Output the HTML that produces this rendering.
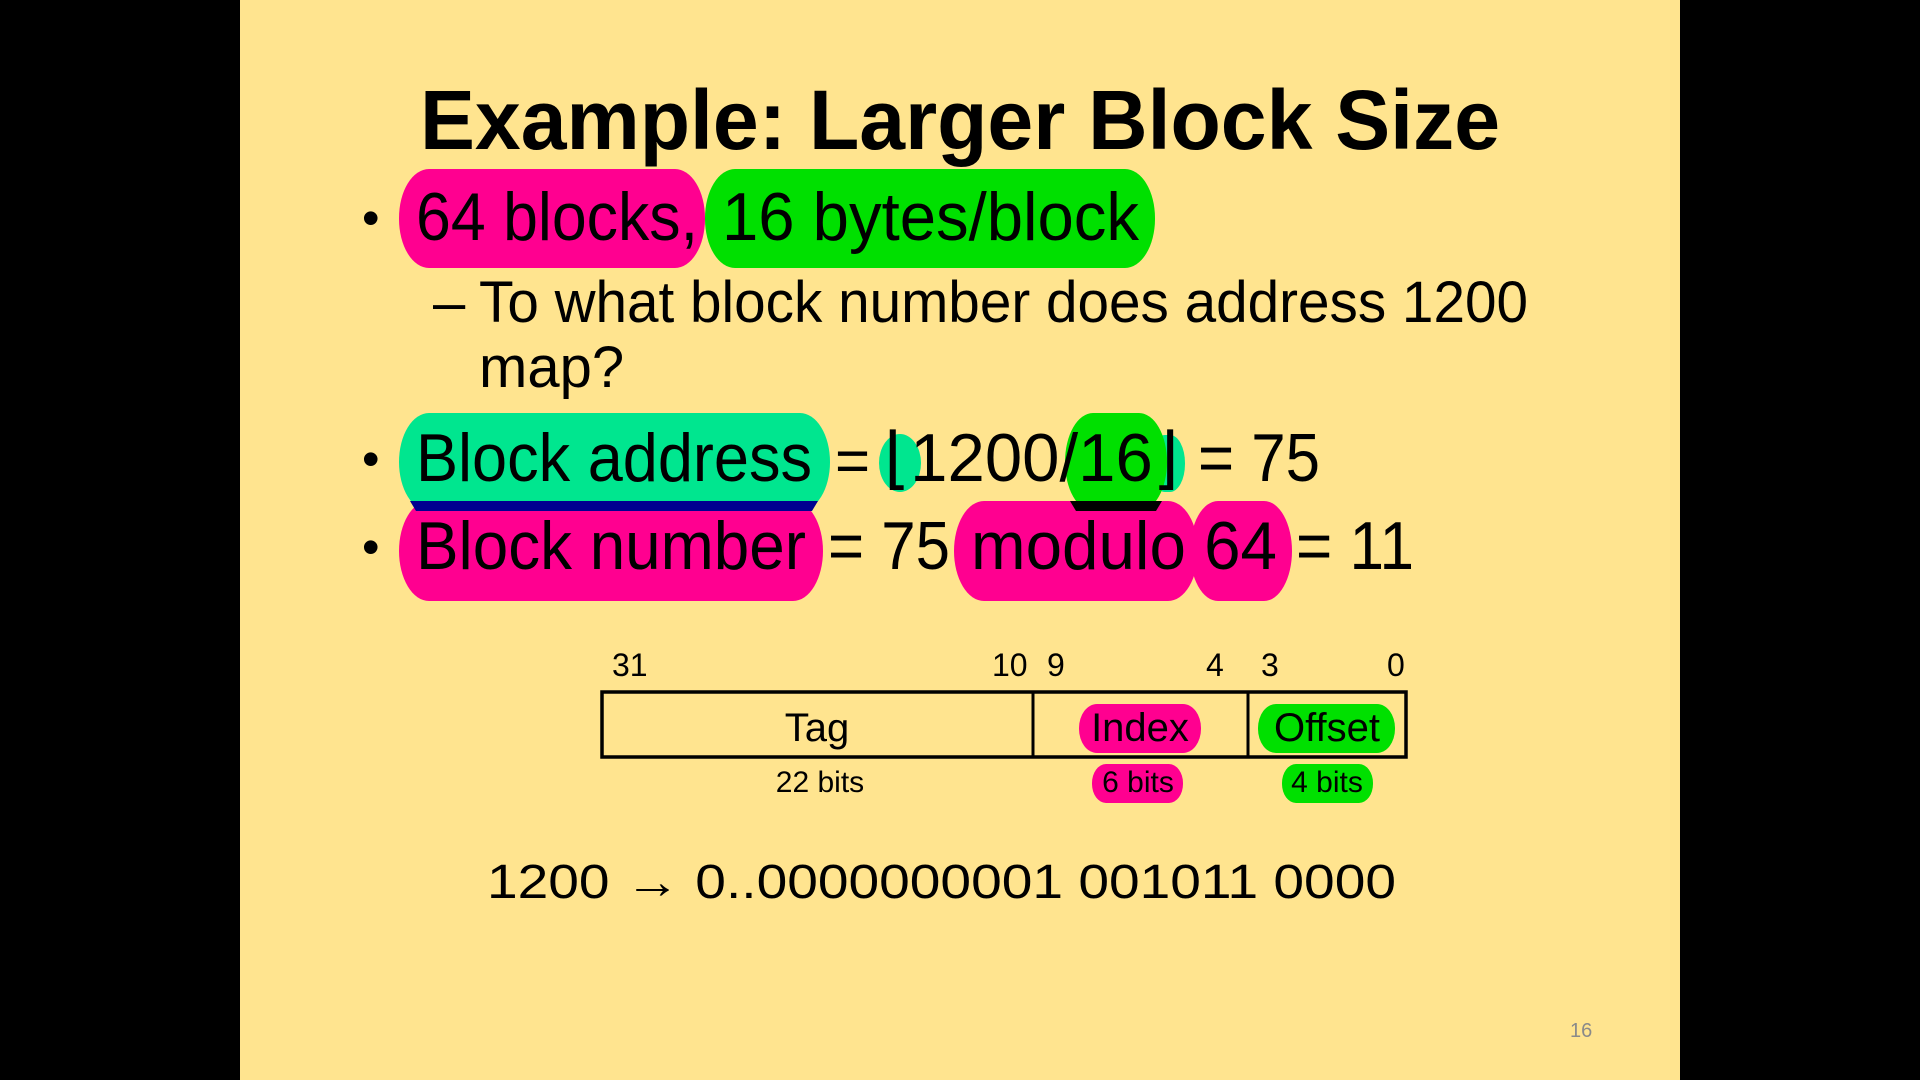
<!DOCTYPE html>
<html><head><meta charset="utf-8"><style>
html,body{margin:0;padding:0;background:#000;width:1920px;height:1080px;overflow:hidden}
svg{display:block}
text{font-family:"Liberation Sans",sans-serif;fill:#000}
.c{font-family:"Liberation Sans Narrow","Liberation Sans",sans-serif}
</style></head><body>
<svg width="1920" height="1080" viewBox="0 0 1920 1080">
<rect x="0" y="0" width="1920" height="1080" fill="#000"/>
<rect x="240" y="0" width="1440" height="1080" fill="#FFE48F"/>
<text x="420" y="149" font-size="84" font-weight="bold" textLength="1080" lengthAdjust="spacingAndGlyphs">Example: Larger Block Size</text>

<!-- bullet 1 -->
<text x="362" y="235" font-size="50">•</text>
<rect x="399" y="169" width="306" height="99" rx="30" ry="49" fill="#FF0090"/>
<rect x="705" y="169" width="450" height="99" rx="30" ry="49" fill="#00E000"/>
<text x="416" y="240" font-size="68" textLength="282" lengthAdjust="spacingAndGlyphs">64 blocks,</text>
<text x="722" y="240" font-size="68" textLength="417" lengthAdjust="spacingAndGlyphs">16 bytes/block</text>

<!-- sub bullet -->
<text x="433" y="322" font-size="58">–</text>
<text x="479" y="322" font-size="58" textLength="1049" lengthAdjust="spacingAndGlyphs">To what block number does address 1200</text>
<text x="479" y="387" font-size="58">map?</text>

<!-- bullet 3 -->
<text x="362" y="476" font-size="50">•</text>
<rect x="399" y="413" width="431" height="98" rx="30" ry="49" fill="#00E68F"/>
<ellipse cx="900" cy="463" rx="21" ry="29" fill="#00E68F"/>
<rect x="1150" y="435" width="35" height="57" rx="15" ry="28" fill="#00E68F"/>
<rect x="1065" y="413" width="102" height="98" rx="28" ry="49" fill="#00E000"/>
<text x="416" y="481" font-size="68" textLength="396" lengthAdjust="spacingAndGlyphs">Block address</text>
<text x="835" y="481" font-size="60">=</text>
<text x="884" y="481" font-size="68" textLength="295" lengthAdjust="spacingAndGlyphs">⌊1200/16⌋</text>
<text x="1198" y="481" font-size="68" textLength="122" lengthAdjust="spacingAndGlyphs">= 75</text>

<!-- bullet 4 -->
<rect x="399" y="501" width="424" height="100" rx="30" ry="50" fill="#FF0090"/>
<rect x="954" y="501" width="244" height="100" rx="30" ry="50" fill="#FF0090"/>
<rect x="1190" y="501" width="102" height="100" rx="28" ry="50" fill="#FF0090"/>
<polygon points="410,501 818,501 812,511 416,511" fill="#000090"/>
<polygon points="1070,501 1162,501 1156,511 1076,511" fill="#000"/>
<text x="362" y="564" font-size="50">•</text>
<text x="416" y="569" font-size="68" textLength="390" lengthAdjust="spacingAndGlyphs">Block number</text>
<text x="828" y="569" font-size="68" textLength="122" lengthAdjust="spacingAndGlyphs">= 75</text>
<text x="971" y="569" font-size="68" textLength="306" lengthAdjust="spacingAndGlyphs">modulo 64</text>
<text x="1296" y="569" font-size="68" textLength="118" lengthAdjust="spacingAndGlyphs">= 11</text>

<!-- diagram -->
<g font-size="32" class="c">
<text x="612" y="676">31</text>
<text x="992" y="676">10</text>
<text x="1047" y="676">9</text>
<text x="1206" y="676">4</text>
<text x="1261" y="676">3</text>
<text x="1387" y="676">0</text>
</g>
<rect x="1079" y="704" width="122" height="49" rx="18" ry="24" fill="#FF0090"/>
<rect x="1258" y="704" width="137" height="49" rx="18" ry="24" fill="#00E000"/>
<rect x="1092" y="764" width="91" height="39" rx="14" ry="19" fill="#FF0090"/>
<rect x="1282" y="764" width="91" height="39" rx="14" ry="19" fill="#00E000"/>
<rect x="602" y="692" width="804" height="65" fill="none" stroke="#000" stroke-width="3.5"/>
<line x1="1033" y1="692" x2="1033" y2="757" stroke="#000" stroke-width="3"/>
<line x1="1248" y1="692" x2="1248" y2="757" stroke="#000" stroke-width="3"/>
<g class="c" text-anchor="middle">
<text x="817" y="741" font-size="40">Tag</text>
<text x="1140" y="741" font-size="40">Index</text>
<text x="1327" y="741" font-size="40">Offset</text>
<text x="820" y="792" font-size="30">22 bits</text>
<text x="1138" y="792" font-size="30">6 bits</text>
<text x="1327" y="792" font-size="30">4 bits</text>
</g>
<text x="487" y="898" font-size="48" class="c" textLength="909" lengthAdjust="spacingAndGlyphs">1200 → 0..0000000001  001011  0000</text>
<text x="1570" y="1037" font-size="20" fill="#8a8a8a" style="fill:#8a8a8a">16</text>
</svg>
</body></html>
